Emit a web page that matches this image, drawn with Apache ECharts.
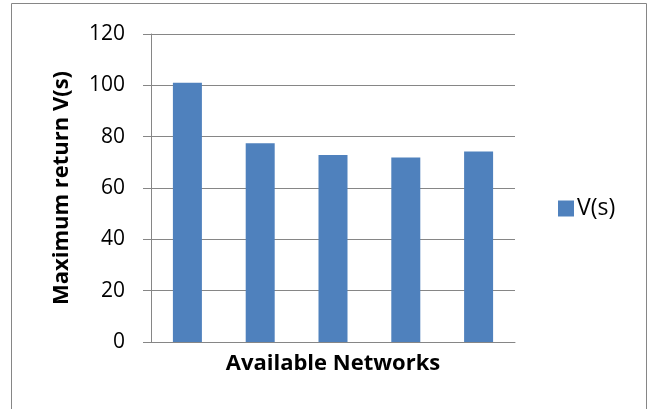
<!DOCTYPE html>
<html><head><meta charset="utf-8">
<script src="https://cdn.jsdelivr.net/npm/echarts@6/dist/echarts.min.js"></script>
<style>html,body{margin:0;padding:0;background:#fff}#c{width:653px;height:409px}</style>
</head><body><div id="c"></div>
<script>
var categories = ['N1','N2','N3','N4','N5'];
var values = [101, 77.4, 72.9, 71.9, 74.2];
var seriesName = 'V(s)';
var chart = echarts.init(document.getElementById('c'));
var F = 'Open Sans';
chart.setOption({
  animation: false,
  graphic: [{type:'rect', shape:{x:11.5,y:3.5,width:635,height:420}, style:{fill:'none',stroke:'#868686',lineWidth:1}}],
  grid: {left:151, right:138, top:34, bottom:67},
  legend: {data:[seriesName], left:558, top:197, padding:0, orient:'vertical', itemWidth:16, itemHeight:16, itemGap:5,
    textStyle:{fontFamily:F, fontSize:23, color:'#000', padding:[0,0,0,-2]}, icon:'rect'},
  xAxis: {type:'category', data:categories, name:'Available Networks', nameLocation:'middle', nameGap:11,
    nameTextStyle:{fontFamily:F, fontSize:22, fontWeight:'bold', color:'#000'},
    axisLine:{lineStyle:{color:'#868686'}}, axisTick:{show:false}, axisLabel:{show:false}},
  yAxis: {type:'value', min:0, max:120, interval:20, name:'Maximum return V(s)', nameLocation:'middle', nameGap:78,
    nameTextStyle:{fontFamily:F, fontSize:22, fontWeight:'bold', color:'#000'},
    axisLine:{show:true, lineStyle:{color:'#868686'}}, axisTick:{show:true, length:8, lineStyle:{color:'#868686'}},
    axisLabel:{fontFamily:F, fontSize:21, color:'#000', margin:26},
    splitLine:{lineStyle:{color:'#868686'}}},
  series: [{name:seriesName, type:'bar', data:values, barWidth:29, itemStyle:{color:'#4F81BD'}}]
});
</script></body></html>
